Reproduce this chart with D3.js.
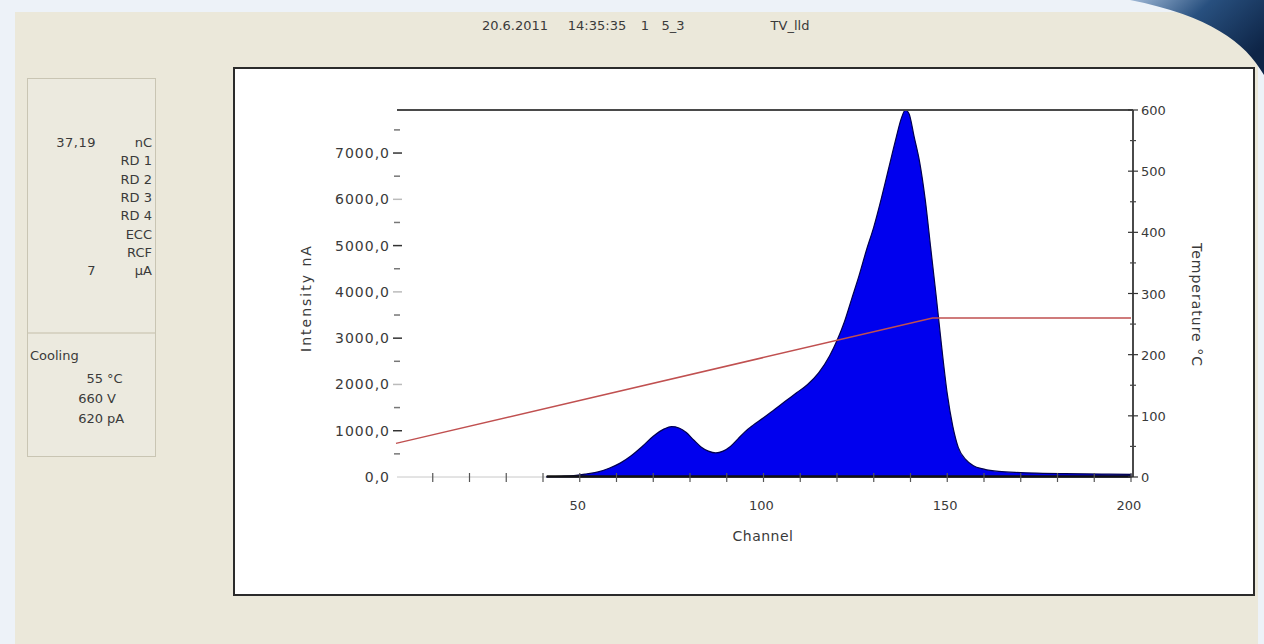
<!DOCTYPE html>
<html>
<head>
<meta charset="utf-8">
<script src="https://cdn.jsdelivr.net/npm/d3@7"></script>
<style>
  body { margin: 0; overflow: hidden; background: #eef3f8; }
  svg text { font-family: "DejaVu Sans", Arial, sans-serif; fill: #3a3a3a; }
</style>
</head>
<body>
<div id="chart"></div>
<script>
// glow curve: channel -> intensity (nA)
var channels = [41, 45, 49, 52, 55, 58, 61, 64, 67, 70, 73, 75, 77, 79, 81, 83, 85, 87, 89, 91,
  93, 95, 97, 100, 103, 106, 109, 112, 115, 118, 120, 122, 124, 126, 128, 130, 132, 134, 136,
  137.5, 138.6, 139.6, 141, 142.5, 144, 145.5, 147, 148.5, 150, 151.5, 153, 155, 157, 160, 164,
  170, 176, 182, 188, 194, 200];
var intensity = [5, 15, 35, 70, 110, 190, 300, 460, 660, 880, 1040, 1090, 1060, 960, 800, 650,
  560, 520, 560, 660, 820, 980, 1110, 1280, 1460, 1640, 1820, 2000, 2250, 2620, 2950, 3350,
  3850, 4350, 4900, 5400, 6000, 6650, 7300, 7750, 7930, 7850, 7350, 6800, 6000, 4950, 3900,
  2800, 1800, 1100, 640, 380, 250, 170, 120, 95, 80, 72, 66, 62, 58];

// temperature profile
var tempChannels = [0, 146, 200];
var tempValues = [55, 260, 260];

var xLabels = [50, 100, 150, 200];
var yLabels = [0, 1000, 2000, 3000, 4000, 5000, 6000, 7000];
var tLabels = [0, 100, 200, 300, 400, 500, 600];

var headerTexts = ["20.6.2011", "14:35:35", "1", "5_3", "TV_lld"];
var infoValues = ["37,19", "", "", "", "", "", "", "7"];
var infoUnits = ["nC", "RD 1", "RD 2", "RD 3", "RD 4", "ECC", "RCF", "µA"];
var coolingValues = ["55", "660", "620"];
var coolingUnits = ["°C", "V", "pA"];

var svg = d3.select("#chart").append("svg")
    .attr("width", 1264)
    .attr("height", 644);

// window background
var defs = svg.append("defs");
var grad = defs.append("linearGradient").attr("id", "swoosh")
    .attr("x1", "0").attr("y1", "0").attr("x2", "1").attr("y2", "0.6");
grad.append("stop").attr("offset", "0").attr("stop-color", "#9fb8d6");
grad.append("stop").attr("offset", "0.45").attr("stop-color", "#28507f");
grad.append("stop").attr("offset", "1").attr("stop-color", "#0e2547");

svg.append("rect").attr("x", 0).attr("y", 0).attr("width", 1264).attr("height", 644)
    .attr("fill", "#edf2f8");
svg.append("rect").attr("x", 15).attr("y", 12).attr("width", 1243).attr("height", 632)
    .attr("fill", "#ebe8da");
svg.append("path")
    .attr("d", "M1130,0 L1264,0 L1264,75 C1245,42 1210,16 1130,0 Z")
    .attr("fill", "url(#swoosh)");

// header
var headerX = [515, 597, 645, 673, 790];
svg.selectAll(".hdr")
    .data(headerTexts)
    .enter().append("text")
    .attr("x", function(d, i) { return headerX[i]; })
    .attr("y", 30)
    .attr("text-anchor", "middle")
    .attr("font-size", "13px")
    .text(function(d) { return d; });

// info box
var info = svg.append("g");
info.append("rect").attr("x", 27.5).attr("y", 78.5).attr("width", 128).attr("height", 378)
    .attr("fill", "#eceadf").attr("stroke", "#c9c5b3");
info.append("line").attr("x1", 28).attr("x2", 155).attr("y1", 333).attr("y2", 333)
    .attr("stroke", "#d8d4c4").attr("stroke-width", 2);

infoUnits.forEach(function(u, i) {
  var y = 147 + i * 18.3;
  if (infoValues[i] !== "") {
    info.append("text").attr("x", 96).attr("y", y).attr("text-anchor", "end")
        .attr("font-size", "13px").attr("letter-spacing", "0.5px").text(infoValues[i]);
  }
  info.append("text").attr("x", 152).attr("y", y).attr("text-anchor", "end")
      .attr("font-size", "13px").text(u);
});
info.append("text").attr("x", 30).attr("y", 360).attr("font-size", "13px").text("Cooling");
coolingUnits.forEach(function(u, i) {
  var y = 383 + i * 20;
  info.append("text").attr("x", 103).attr("y", y).attr("text-anchor", "end")
      .attr("font-size", "13px").text(coolingValues[i]);
  info.append("text").attr("x", 107).attr("y", y)
      .attr("font-size", "13px").text(u);
});

// chart box
svg.append("rect").attr("x", 234).attr("y", 68).attr("width", 1020).attr("height", 527)
    .attr("fill", "#ffffff").attr("stroke", "#2b2b2b").attr("stroke-width", 2);

var x = d3.scaleLinear().domain([0, 200]).range([396, 1131]);
var y = d3.scaleLinear().domain([0, 7930]).range([477, 110]);
var yT = d3.scaleLinear().domain([0, 600]).range([477, 110]);

// x axis base line
svg.append("line").attr("x1", 397).attr("x2", 1133).attr("y1", 477).attr("y2", 477)
    .attr("stroke", "#c8c8c8").attr("stroke-width", 1);

// glow curve
var area = d3.area()
    .x(function(d, i) { return x(channels[i]); })
    .y0(y(0))
    .y1(function(d) { return y(d); })
    .curve(d3.curveMonotoneX);

svg.append("path")
    .datum(intensity)
    .attr("d", area)
    .attr("fill", "#0000ee")
    .attr("stroke", "#000050")
    .attr("stroke-width", 1.2);

// bottom dark baseline under the data
svg.append("line")
    .attr("x1", x(channels[0])).attr("x2", x(200)).attr("y1", 476.5).attr("y2", 476.5)
    .attr("stroke", "#111").attr("stroke-width", 2.5);

// temperature line
var tline = d3.line()
    .x(function(d, i) { return x(tempChannels[i]); })
    .y(function(d) { return yT(d); });
svg.append("path")
    .datum(tempValues)
    .attr("d", tline)
    .attr("fill", "none")
    .attr("stroke", "#c05050")
    .attr("stroke-width", 1.5);

// top frame line
svg.append("line").attr("x1", 397).attr("x2", 1133).attr("y1", 110).attr("y2", 110)
    .attr("stroke", "#4a4a4a").attr("stroke-width", 2);

// x ticks
var xAxis = svg.append("g");
xAxis.selectAll(".xt")
    .data(d3.range(10, 201, 10))
    .enter().append("line")
    .attr("x1", function(d) { return x(d); })
    .attr("x2", function(d) { return x(d); })
    .attr("y1", 473).attr("y2", 482)
    .attr("stroke", "#555").attr("stroke-width", 1.2);
xAxis.selectAll(".xl")
    .data(xLabels)
    .enter().append("text")
    .attr("x", function(d) { return x(d) - 2; })
    .attr("y", 510)
    .attr("text-anchor", "middle")
    .attr("font-size", "13px")
    .text(function(d) { return d; });
svg.append("text").attr("x", 763).attr("y", 541).attr("text-anchor", "middle")
    .attr("font-size", "14px").attr("letter-spacing", "0.5px").text("Channel");

// left axis (ticks only)
var yAxis = svg.append("g");
yAxis.selectAll(".ym")
    .data(d3.range(500, 7930, 1000))
    .enter().append("line")
    .attr("x1", 394).attr("x2", 400)
    .attr("y1", function(d) { return y(d); })
    .attr("y2", function(d) { return y(d); })
    .attr("stroke", "#777").attr("stroke-width", 1.5);
yAxis.selectAll(".yM")
    .data(yLabels.slice(1))
    .enter().append("line")
    .attr("x1", 393).attr("x2", 402)
    .attr("y1", function(d) { return y(d); })
    .attr("y2", function(d) { return y(d); })
    .attr("stroke", function(d) { return (d / 1000) % 2 ? "#333" : "#bbb"; })
    .attr("stroke-width", 1.5);
yAxis.selectAll(".yl")
    .data(yLabels)
    .enter().append("text")
    .attr("x", 390)
    .attr("y", function(d) { return y(d) + 5; })
    .attr("text-anchor", "end")
    .attr("font-size", "14px")
    .attr("letter-spacing", "1px")
    .text(function(d) { return d3.format(".1f")(d).replace(".", ","); });
svg.append("text")
    .attr("transform", "translate(311,298) rotate(-90)")
    .attr("text-anchor", "middle")
    .attr("font-size", "14px")
    .attr("letter-spacing", "2px")
    .text("Intensity nA");

// right axis
var rAxis = svg.append("g");
rAxis.append("line").attr("x1", 1133).attr("x2", 1133).attr("y1", 110).attr("y2", 477)
    .attr("stroke", "#4a4a4a").attr("stroke-width", 2);
rAxis.selectAll(".rm")
    .data(d3.range(50, 600, 100))
    .enter().append("line")
    .attr("x1", 1130).attr("x2", 1136)
    .attr("y1", function(d) { return yT(d); })
    .attr("y2", function(d) { return yT(d); })
    .attr("stroke", "#444").attr("stroke-width", 1.2);
rAxis.selectAll(".rM")
    .data(tLabels)
    .enter().append("line")
    .attr("x1", 1128).attr("x2", 1138)
    .attr("y1", function(d) { return yT(d); })
    .attr("y2", function(d) { return yT(d); })
    .attr("stroke", "#333").attr("stroke-width", 1.2);
rAxis.selectAll(".rl")
    .data(tLabels)
    .enter().append("text")
    .attr("x", 1141)
    .attr("y", function(d) { return yT(d) + 5; })
    .attr("font-size", "13px")
    .text(function(d) { return d; });
svg.append("text")
    .attr("transform", "translate(1192,305) rotate(90)")
    .attr("text-anchor", "middle")
    .attr("font-size", "14px")
    .attr("letter-spacing", "1px")
    .text("Temperature °C");
</script>
</body>
</html>
